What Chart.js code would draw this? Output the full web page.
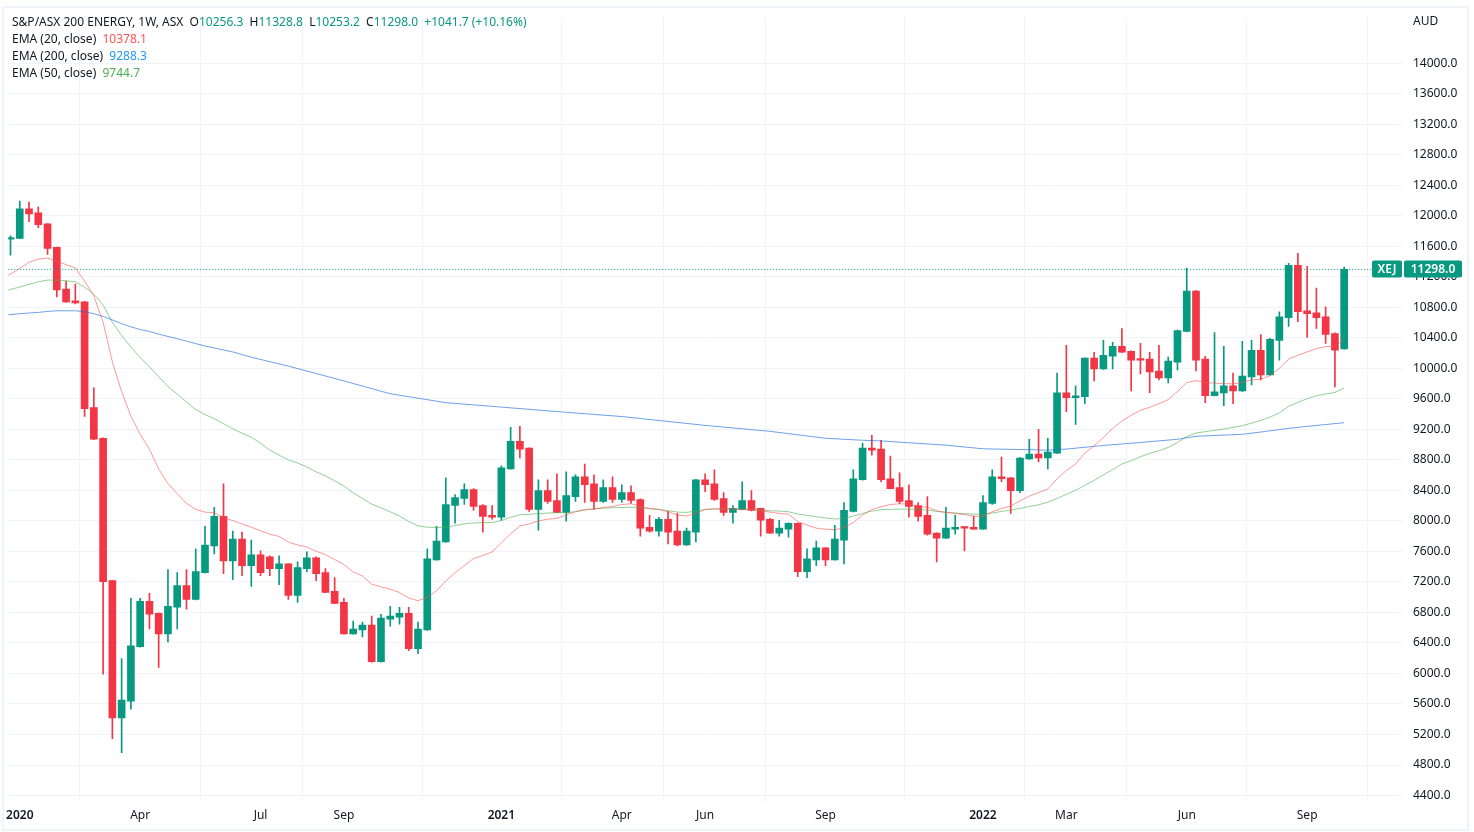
<!DOCTYPE html>
<html>
<head>
<meta charset="utf-8">
<title>S&amp;P/ASX 200 ENERGY</title>
<script src="https://cdn.jsdelivr.net/npm/chart.js@4"></script>
<style>
  html, body { margin: 0; background: #fff; overflow: hidden; }
  #wrap { position: relative; width: 1474px; height: 832px; font-family: "Noto Sans", sans-serif; }
  #frame { position: absolute; left: 2px; top: 6px; width: 1463px; height: 821px; border: 2px solid #f0f3fa; }
  canvas { position: absolute; left: 0; top: 0; }
  .row { position: absolute; left: 12px; font-size: 12px; line-height: 17px; color: #131722; white-space: pre; }
  #aud { position: absolute; left: 1413px; top: 12px; font-size: 12px; line-height: 17px; color: #131722; }
</style>
</head>
<body>
<div id="wrap">
  <div id="frame"></div>
  <canvas id="chart" width="1474" height="832"></canvas>
  <div class="row" style="top:13px">S&amp;P/ASX 200 ENERGY, 1W, ASX  O<span class="g">10256.3</span>  H<span class="g">11328.8</span>  L<span class="g">10253.2</span>  C<span class="g">11298.0</span>  <span class="g">+1041.7 (+10.16%)</span></div>
  <div class="row" style="top:30px">EMA (20, close)  <span style="color:#ff5252">10378.1</span></div>
  <div class="row" style="top:47px">EMA (200, close)  <span style="color:#2196f3">9288.3</span></div>
  <div class="row" style="top:64px">EMA (50, close)  <span style="color:#4caf50">9744.7</span></div>
  <div id="aud">AUD</div>
</div>
<script>
document.querySelectorAll(".g").forEach(el => el.style.color = "#089981");

// weekly candles, oldest first
const opens = [
  11693, 11706, 12091, 12039, 11897, 11586, 11041, 10886, 10873, 9486,
  9084, 7218, 5417, 5637, 6350, 6946, 6790, 6518, 6868, 7153,
  6972, 7322, 7672, 8061, 7477, 7762, 7413, 7555, 7529, 7374,
  7438, 7024, 7374, 7516, 7322, 7076, 6933, 6518, 6570, 6635,
  6155, 6713, 6739, 6790, 6324, 6570, 7490, 7724, 8203, 8294,
  8411, 8203, 8074, 8048, 8683, 9045, 8955, 8151, 8397, 8268,
  8112, 8320, 8579, 8488, 8255, 8436, 8281, 8372, 8281, 7918,
  7866, 8022, 7866, 7685, 7853, 8540, 8488, 8294, 8112, 8151,
  8268, 8164, 8022, 7840, 7892, 7970, 7335, 7490, 7646, 7490,
  7749, 8125, 8540, 8955, 8942, 8553, 8436, 8268, 8203, 8074,
  7840, 7775, 7892, 7918, 7918, 7892, 8229, 8579, 8566, 8397,
  8812, 8877, 8825, 8890, 9681, 9616, 9629, 10134, 9992, 10160,
  10290, 10225, 10121, 10121, 9966, 9875, 10082, 10484, 11015, 10121,
  9642, 9680, 9771, 9706, 9888, 10238, 9914, 10367, 10665, 11352,
  10756, 10730, 10678, 10458, 10256.3
];
const highs = [
  11737, 12195, 12182, 12117, 11900, 11590, 11145, 11106, 10880, 9745,
  9090, 7220, 6194, 6985, 6985, 7050, 6795, 7361, 7322, 7361,
  7633, 7931, 8177, 8488, 7866, 7853, 7749, 7607, 7542, 7542,
  7442, 7464, 7594, 7529, 7374, 7257, 6985, 6687, 6674, 6752,
  6777, 6881, 6868, 6868, 6674, 7633, 7931, 8566, 8345, 8488,
  8423, 8216, 8203, 8722, 9227, 9240, 8960, 8540, 8540, 8618,
  8644, 8605, 8747, 8605, 8540, 8579, 8475, 8462, 8290, 8074,
  8048, 8125, 8099, 7905, 8545, 8618, 8670, 8372, 8203, 8514,
  8397, 8170, 8035, 8009, 7975, 7975, 7633, 7737, 7650, 7944,
  8242, 8670, 9020, 9123, 9058, 8851, 8631, 8475, 8242, 8320,
  7845, 8177, 8074, 7925, 8061, 8333, 8670, 8838, 8570, 8830,
  9071, 9201, 9084, 9940, 10303, 9771, 10140, 10212, 10367, 10342,
  10523, 10230, 10329, 10212, 10303, 10147, 10502, 11314, 11020, 10160,
  10471, 10290, 9940, 10355, 10367, 10445, 10393, 10743, 11378, 11508,
  11339, 11054, 10808, 10465, 11328.8
];
const lows = [
  11486, 11700, 11923, 11845, 11495, 10938, 10865, 10847, 9370, 9065,
  5991, 5144, 4963, 5533, 6345, 6583, 6078, 6415, 6583, 6842,
  6965, 7318, 7568, 7309, 7231, 7283, 7140, 7283, 7283, 7166,
  6972, 6933, 7335, 7218, 7060, 6915, 6515, 6515, 6479, 6150,
  6150, 6622, 6648, 6298, 6259, 6565, 7487, 7720, 7970, 8216,
  8138, 7853, 8022, 8009, 8680, 8825, 8125, 7879, 8229, 8110,
  7996, 8255, 8242, 8151, 8242, 8242, 8242, 8229, 7801, 7853,
  7801, 7698, 7672, 7680, 7724, 8385, 8268, 8074, 7970, 8145,
  8130, 7801, 7835, 7801, 7788, 7270, 7257, 7413, 7413, 7485,
  7438, 8120, 8535, 8864, 8514, 8420, 8229, 8048, 7996, 7814,
  7464, 7770, 7827, 7607, 7888, 7888, 8216, 8514, 8099, 8372,
  8808, 8773, 8683, 8885, 9434, 9266, 9538, 9836, 9988, 9992,
  10208, 9706, 9927, 9681, 9849, 9810, 9979, 10480, 9966, 9551,
  9638, 9512, 9538, 9700, 9784, 9849, 9910, 10108, 10549, 10614,
  10406, 10523, 10329, 9758, 10253.2
];
const closes = [
  11715, 12091, 12026, 11884, 11573, 11028, 10873, 10860, 9473, 9071,
  7205, 5417, 5650, 6363, 6946, 6777, 6518, 6881, 7153, 6972,
  7335, 7685, 8061, 7477, 7762, 7413, 7555, 7322, 7374, 7438,
  7024, 7387, 7516, 7309, 7063, 6920, 6518, 6583, 6635, 6155,
  6726, 6752, 6790, 6324, 6583, 7503, 7737, 8216, 8307, 8411,
  8190, 8061, 8048, 8696, 9045, 8942, 8151, 8397, 8255, 8112,
  8333, 8579, 8475, 8255, 8436, 8281, 8372, 8268, 7905, 7866,
  8022, 7853, 7685, 7866, 8540, 8475, 8281, 8112, 8164, 8268,
  8138, 8009, 7840, 7905, 7970, 7335, 7503, 7646, 7490, 7762,
  8138, 8553, 8955, 8929, 8540, 8423, 8255, 8190, 8061, 7827,
  7775, 7905, 7918, 7905, 7892, 8242, 8579, 8553, 8397, 8825,
  8877, 8825, 8903, 9681, 9616, 9642, 10134, 9992, 10173, 10290,
  10212, 10108, 10108, 9953, 9875, 10095, 10497, 11015, 10108, 9642,
  9693, 9771, 9706, 9901, 10238, 9914, 10380, 10678, 11352, 10743,
  10717, 10665, 10445, 10238, 11298
];

const ema20 = [
  11219, 11310, 11391, 11434, 11447, 11404, 11361, 11318, 11145, 10951,
  10605, 10086, 9697, 9373, 9136, 8942, 8683, 8488, 8359, 8229,
  8151, 8116, 8108, 8044, 8005, 7961, 7918, 7870, 7827, 7797,
  7723, 7685, 7659, 7603, 7559, 7494, 7429, 7331, 7279, 7170,
  7136, 7105, 7062, 6989, 6955, 6998, 7085, 7214, 7322, 7416,
  7507, 7546, 7594, 7711, 7831, 7935, 7961, 8000, 8022, 8035,
  8078, 8121, 8151, 8155, 8177, 8190, 8216, 8225, 8194, 8164,
  8151, 8121, 8078, 8065, 8099, 8151, 8160, 8160, 8155, 8151,
  8151, 8134, 8116, 8099, 8090, 7992, 7948, 7905, 7892, 7883,
  7914, 7979, 8078, 8151, 8186, 8216, 8225, 8220, 8194, 8177,
  8134, 8112, 8099, 8082, 8065, 8056, 8121, 8164, 8194, 8264,
  8324, 8372, 8419, 8553, 8661, 8747, 8890, 8985, 9093, 9214,
  9309, 9386, 9451, 9490, 9538, 9590, 9697, 9814, 9840, 9819,
  9806, 9801, 9797, 9819, 9849, 9858, 9905, 10001, 10121, 10173,
  10216, 10260, 10286, 10290, 10378.1
];
const ema50 = [
  11028, 11067, 11102, 11136, 11158, 11158, 11149, 11136, 11067, 10973,
  10830, 10605, 10432, 10281, 10143, 10021, 9892, 9762, 9664, 9560,
  9460, 9396, 9340, 9275, 9210, 9149, 9097, 9020, 8929, 8864,
  8799, 8760, 8708, 8644, 8592, 8527, 8459, 8368, 8294, 8220,
  8173, 8121, 8065, 7992, 7935, 7918, 7914, 7918, 7940, 7961,
  7974, 7979, 7979, 8005, 8048, 8082, 8087, 8095, 8104, 8108,
  8108, 8121, 8142, 8160, 8168, 8173, 8177, 8181, 8173, 8160,
  8151, 8134, 8116, 8112, 8130, 8151, 8155, 8155, 8155, 8151,
  8151, 8142, 8134, 8130, 8121, 8090, 8073, 8056, 8039, 8026,
  8031, 8065, 8099, 8130, 8147, 8151, 8155, 8155, 8151, 8142,
  8125, 8112, 8104, 8095, 8090, 8087, 8104, 8125, 8142, 8164,
  8190, 8212, 8246, 8294, 8350, 8402, 8466, 8531, 8605, 8674,
  8747, 8790, 8842, 8886, 8920, 8964, 9029, 9106, 9153, 9171,
  9188, 9205, 9227, 9249, 9283, 9318, 9361, 9418, 9503, 9555,
  9603, 9642, 9664, 9685, 9744.7
];
// the 200 EMA is read at fewer weeks, it is almost straight
const ema200Weeks = [
  0, 1, 2, 3, 4, 5, 6, 7, 8, 9, 10, 11, 12, 13, 14, 15, 16, 17, 18, 19,
  20, 21, 22, 23, 24, 25, 26, 30, 36, 41, 47, 53, 59, 66, 75, 82, 88, 92,
  94, 101, 105, 112, 114, 118, 122, 126, 128, 133, 135, 138, 140, 144
];
const ema200 = [
  10704, 10717, 10726, 10734, 10747, 10756, 10756, 10756, 10743, 10717,
  10682, 10636, 10587, 10545, 10510, 10484, 10449, 10419, 10389, 10358,
  10325, 10294, 10268, 10242, 10216, 10182, 10147, 10030, 9836, 9668,
  9551, 9493, 9434, 9369, 9253, 9175, 9084, 9058, 9049, 8994,
  8946, 8929, 8942, 8990, 9029, 9071, 9110, 9136, 9166, 9214,
  9240, 9288.3
];

const lastClose = 11298;
const symbol = "XEJ";

const priceTicks = [4400, 4800, 5200, 5600, 6000, 6400, 6800, 7200, 7600, 8000, 8400, 8800,
  9200, 9600, 10000, 10400, 10800, 11200, 11600, 12000, 12400, 12800, 13200, 13600, 14000];
const timeTickWeeks = [1, 14, 27, 36, 53, 66, 75, 88, 105, 114, 127, 140];
const timeTickLabels = ["2020", "Apr", "Jul", "Sep", "2021", "Apr", "Jun", "Sep", "2022", "Mar", "Jun", "Sep"];

const UP = "#089981";
const DOWN = "#f23645";
const GRID = "#f0f3fa";
const FONT = '"Noto Sans", sans-serif';
const X_MIN = -0.25;
const X_MAX = 150.35;

const candleColors = closes.map((c, i) => (c >= opens[i] ? UP : DOWN));
const pts = (weeks, vals) => vals.map((v, i) => ({ x: Math.max(weeks[i], X_MIN), y: v }));
const allWeeks = closes.map((_, i) => i);
// left edge reading for the EMAs
const edgeWeeks = allWeeks.map(i => (i === 0 ? X_MIN : i));
const ema200Edge = ema200Weeks.map(i => (i === 0 ? X_MIN : i));

const priceTag = {
  id: "priceTag",
  afterDraw(chart) {
    const ctx = chart.ctx;
    const y = Math.round(chart.scales.y.getPixelForValue(lastClose));
    const right = chart.chartArea.right;
    ctx.save();
    ctx.fillStyle = UP;
    ctx.beginPath();
    ctx.roundRect(right - 31, y - 8.5, 30, 17, 2);
    ctx.roundRect(right + 1, y - 8.5, 58, 17, 2);
    ctx.fill();
    ctx.fillStyle = "#fff";
    ctx.font = "600 12px " + FONT;
    ctx.textBaseline = "middle";
    ctx.textAlign = "center";
    ctx.fillText(symbol, right - 16, y + 0.5);
    ctx.fillText(lastClose.toFixed(1), right + 30, y + 0.5);
    ctx.restore();
  }
};

new Chart(document.getElementById("chart"), {
  type: "bar",
  data: {
    datasets: [
      {
        label: "wick",
        data: allWeeks.map(i => ({ x: i, y: [lows[i], highs[i]] })),
        backgroundColor: candleColors,
        barThickness: 1,
        grouped: false,
        order: 3
      },
      {
        label: "body",
        data: allWeeks.map(i => ({ x: i, y: [opens[i], closes[i]] })),
        backgroundColor: candleColors,
        barThickness: 7,
        minBarLength: 1.5,
        grouped: false,
        order: 2
      },
      {
        type: "line", label: "EMA 20", data: pts(edgeWeeks, ema20),
        borderColor: "rgba(255,82,82,0.6)", borderWidth: 1, pointRadius: 0, order: 1
      },
      {
        type: "line", label: "EMA 200", data: pts(ema200Edge, ema200),
        borderColor: "rgba(33,110,220,0.65)", borderWidth: 1, pointRadius: 0, order: 1
      },
      {
        type: "line", label: "EMA 50", data: pts(edgeWeeks, ema50),
        borderColor: "rgba(76,175,80,0.6)", borderWidth: 1, pointRadius: 0, order: 1
      },
      {
        type: "line", label: "last",
        data: [{ x: X_MIN, y: lastClose }, { x: X_MAX, y: lastClose }],
        borderColor: UP, borderWidth: 1, borderDash: [1, 2], pointRadius: 0, order: 0
      }
    ]
  },
  options: {
    responsive: false,
    animation: false,
    layout: { padding: { left: 4, top: 8, right: 0, bottom: 0 } },
    plugins: { legend: { display: false }, tooltip: { enabled: false } },
    scales: {
      x: {
        type: "linear",
        min: X_MIN,
        max: X_MAX,
        offset: false,
        afterBuildTicks(scale) { scale.ticks = timeTickWeeks.map(v => ({ value: v })); },
        afterFit(scale) { scale.height = 30; },
        grid: { color: GRID, drawTicks: false, drawBorder: false },
        border: { display: false },
        ticks: {
          autoSkip: false,
          maxRotation: 0,
          padding: 6,
          color: "#131722",
          font: ctx => ({
            family: FONT,
            size: 12,
            weight: /^\d/.test(timeTickLabels[ctx.index]) ? "600" : "400"
          }),
          callback: (v, i) => timeTickLabels[i]
        }
      },
      y: {
        position: "right",
        min: 4315,
        max: 14605,
        afterBuildTicks(scale) { scale.ticks = priceTicks.map(v => ({ value: v })); },
        afterFit(scale) { scale.width = 71; },
        grid: { color: GRID, drawTicks: false },
        border: { display: false },
        ticks: {
          autoSkip: false,
          padding: 10,
          color: "#131722",
          font: { family: FONT, size: 12 },
          callback: v => v.toFixed(1)
        }
      }
    }
  },
  plugins: [priceTag]
});
</script>
</body>
</html>
